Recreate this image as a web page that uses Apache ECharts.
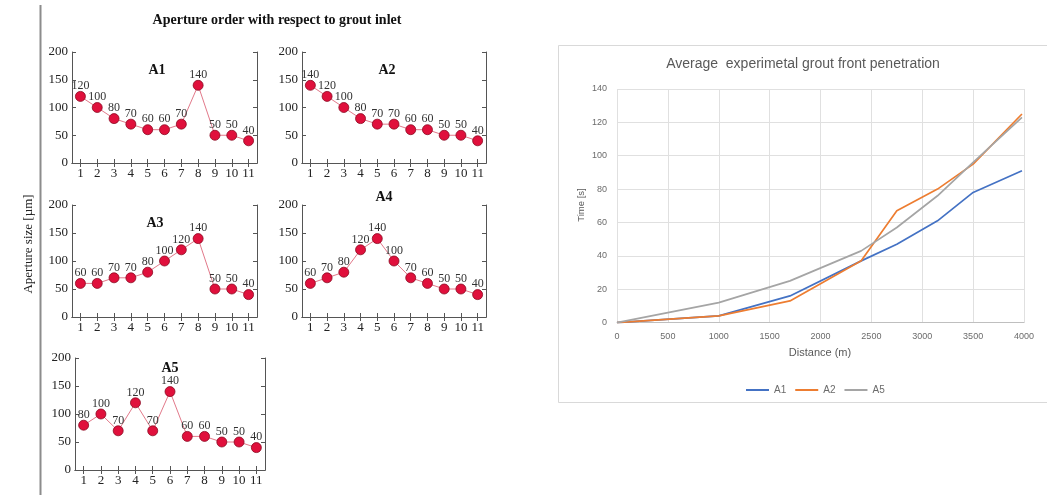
<!DOCTYPE html>
<html>
<head>
<meta charset="utf-8">
<script src="https://cdn.jsdelivr.net/npm/echarts@6/dist/echarts.min.js"></script>
<style>
  html, body { margin: 0; padding: 0; background: #fff; }
  #chart { width: 1047px; height: 498px; }
</style>
</head>
<body>
<div id="chart"></div>
<script>
// Aperture sizes (µm) along the fracture, ordered from the grout inlet
const positions = ['1', '2', '3', '4', '5', '6', '7', '8', '9', '10', '11'];
const apertureA1 = [120, 100, 80, 70, 60, 60, 70, 140, 50, 50, 40];
const apertureA2 = [140, 120, 100, 80, 70, 70, 60, 60, 50, 50, 40];
const apertureA3 = [60, 60, 70, 70, 80, 100, 120, 140, 50, 50, 40];
const apertureA4 = [60, 70, 80, 120, 140, 100, 70, 60, 50, 50, 40];
const apertureA5 = [80, 100, 70, 120, 70, 140, 60, 60, 50, 50, 40];
const apertureTicks = [0, 50, 100, 150, 200];

// Average grout front penetration: distance (m) vs time (s)
const distance = [0, 1000, 1700, 2400, 2750, 3150, 3500, 3980];
const timeA1 = [0, 4, 16, 37, 47, 61, 78, 91];
const timeA2 = [0, 4, 13, 37, 67, 80, 95, 125];
const timeA5 = [0, 12, 25, 43, 57, 76, 96, 123];
const distanceTicks = [0, 500, 1000, 1500, 2000, 2500, 3000, 3500, 4000];
const timeTicks = [0, 20, 40, 60, 80, 100, 120, 140];

const SERIF = '"Liberation Serif", "DejaVu Serif", serif';
const SANS = '"Liberation Sans", "DejaVu Sans", sans-serif';

const panels = [
  { name: 'A1', values: apertureA1, box: [72, 52, 185, 111], title: [157, 70] },
  { name: 'A2', values: apertureA2, box: [302, 52, 184, 111], title: [387, 70] },
  { name: 'A3', values: apertureA3, box: [72, 205, 185, 112], title: [155, 223] },
  { name: 'A4', values: apertureA4, box: [302, 205, 184, 112], title: [384, 197] },
  { name: 'A5', values: apertureA5, box: [75, 358, 190, 112], title: [170, 368] }
];

const grid = [], xAxis = [], yAxis = [], series = [], graphic = [];

const boxLine = { show: true, lineStyle: { color: '#555', width: 1 } };

panels.forEach((p, i) => {
  const [l, t, w, h] = p.box;
  grid.push({ left: l, top: t, width: w, height: h, containLabel: false });
  const xBase = {
    type: 'category', gridIndex: i, data: positions, boundaryGap: true,
    axisLine: boxLine,
    axisTick: { show: true, inside: true, length: 4, alignWithLabel: true, interval: 0, lineStyle: { color: '#555' } },
    splitLine: { show: false }
  };
  xAxis.push(Object.assign({}, xBase, {
    position: 'bottom',
    axisLabel: { interval: 0, margin: 4, fontFamily: SERIF, fontSize: 13, color: '#222' }
  }));
  xAxis.push(Object.assign({}, xBase, { position: 'top', axisLabel: { show: false } }));
  const yBase = {
    type: 'value', gridIndex: i, min: apertureTicks[0], max: apertureTicks[apertureTicks.length - 1], interval: 50,
    axisLine: boxLine,
    axisTick: { show: true, inside: true, length: 4, lineStyle: { color: '#555' } },
    splitLine: { show: false }
  };
  yAxis.push(Object.assign({}, yBase, {
    position: 'left',
    axisLabel: { margin: 4, fontFamily: SERIF, fontSize: 13, color: '#222' }
  }));
  yAxis.push(Object.assign({}, yBase, { position: 'right', axisLabel: { show: false } }));

  series.push({
    type: 'line', name: 'Aperture ' + p.name,
    xAxisIndex: i * 2, yAxisIndex: i * 2,
    data: p.values,
    symbol: 'circle', symbolSize: 10,
    lineStyle: { color: '#e2798a', width: 1 },
    itemStyle: { color: '#e0103c', borderColor: '#8a0a22', borderWidth: 0.8 },
    label: {
      show: true, position: 'top', distance: -1,
      fontFamily: SERIF, fontSize: 12, color: '#333'
    },
    emphasis: { disabled: true },
    animation: false
  });

  graphic.push({
    type: 'text', x: p.title[0], y: p.title[1],
    style: {
      text: p.name, font: 'bold 14px ' + SERIF, fill: '#111',
      align: 'center', verticalAlign: 'middle', textAlign: 'center', textVerticalAlign: 'middle'
    }
  });
});

// Penetration chart (right)
const gi = panels.length;
grid.push({ left: 617, top: 89, width: 407, height: 233.6, containLabel: false });
xAxis.push({
  type: 'value', gridIndex: gi, min: distanceTicks[0], max: distanceTicks[distanceTicks.length - 1], interval: 500,
  axisLine: { show: true, lineStyle: { color: '#bfbfbf', width: 1 } },
  axisTick: { show: false },
  axisLabel: { margin: 9, fontFamily: SANS, fontSize: 9, color: '#6b6b6b', formatter: v => String(v) },
  splitLine: { show: true, lineStyle: { color: '#e0e0e0', width: 1 } }
});
yAxis.push({
  type: 'value', gridIndex: gi, min: timeTicks[0], max: timeTicks[timeTicks.length - 1], interval: 20,
  axisLine: { show: false },
  axisTick: { show: false },
  axisLabel: { margin: 10, fontFamily: SANS, fontSize: 9, color: '#6b6b6b' },
  splitLine: { show: true, lineStyle: { color: '#e0e0e0', width: 1 } }
});

const timeSeries = [
  { name: 'A1', values: timeA1, color: '#4472c4' },
  { name: 'A2', values: timeA2, color: '#ed7d31' },
  { name: 'A5', values: timeA5, color: '#a5a5a5' }
];
timeSeries.forEach(s => {
  series.push({
    type: 'line', name: s.name,
    xAxisIndex: xAxis.length - 1, yAxisIndex: yAxis.length - 1,
    data: distance.map((d, k) => [d, s.values[k]]),
    symbol: 'none', showSymbol: false,
    lineStyle: { color: s.color, width: 1.7 },
    itemStyle: { color: s.color },
    emphasis: { disabled: true },
    animation: false
  });
});

graphic.push(
  { type: 'line', z: 0, shape: { x1: 40.5, y1: 5, x2: 40.5, y2: 495 },
    style: { stroke: '#8c8c8c', lineWidth: 2 } },
  { type: 'rect', z: 0, shape: { x: 558.5, y: 45.5, width: 520, height: 357 },
    style: { fill: 'transparent', stroke: '#d9d9d9', lineWidth: 1 } },
  { type: 'text', x: 277, y: 20,
    style: { text: 'Aperture order with respect to grout inlet', font: 'bold 14px ' + SERIF, fill: '#111',
      align: 'center', verticalAlign: 'middle', textAlign: 'center', textVerticalAlign: 'middle' } },
  { type: 'text', x: 29, y: 244, rotation: Math.PI / 2,
    style: { text: 'Aperture size [µm]', font: '13px ' + SERIF, fill: '#222',
      align: 'center', verticalAlign: 'middle', textAlign: 'center', textVerticalAlign: 'middle' } },
  { type: 'text', x: 803, y: 64,
    style: { text: 'Average  experimetal grout front penetration', font: '14px ' + SANS, fill: '#595959',
      align: 'center', verticalAlign: 'middle', textAlign: 'center', textVerticalAlign: 'middle' } },
  { type: 'text', x: 581, y: 205, rotation: Math.PI / 2,
    style: { text: 'Time [s]', font: '9.5px ' + SANS, fill: '#595959',
      align: 'center', verticalAlign: 'middle', textAlign: 'center', textVerticalAlign: 'middle' } },
  { type: 'text', x: 820, y: 353,
    style: { text: 'Distance (m)', font: '11px ' + SANS, fill: '#595959',
      align: 'center', verticalAlign: 'middle', textAlign: 'center', textVerticalAlign: 'middle' } }
);

const chart = echarts.init(document.getElementById('chart'), null, { renderer: 'canvas' });
chart.setOption({
  backgroundColor: '#ffffff',
  animation: false,
  grid, xAxis, yAxis, series, graphic,
  legend: {
    data: ['A1', 'A2', 'A5'].map(n => ({ name: n, icon: 'rect' })),
    left: 741, top: 380,
    itemWidth: 23, itemHeight: 2, itemGap: 9,
    textStyle: { fontFamily: SANS, fontSize: 10, color: '#6b6b6b' },
    selectedMode: false
  }
});
</script>
</body>
</html>
